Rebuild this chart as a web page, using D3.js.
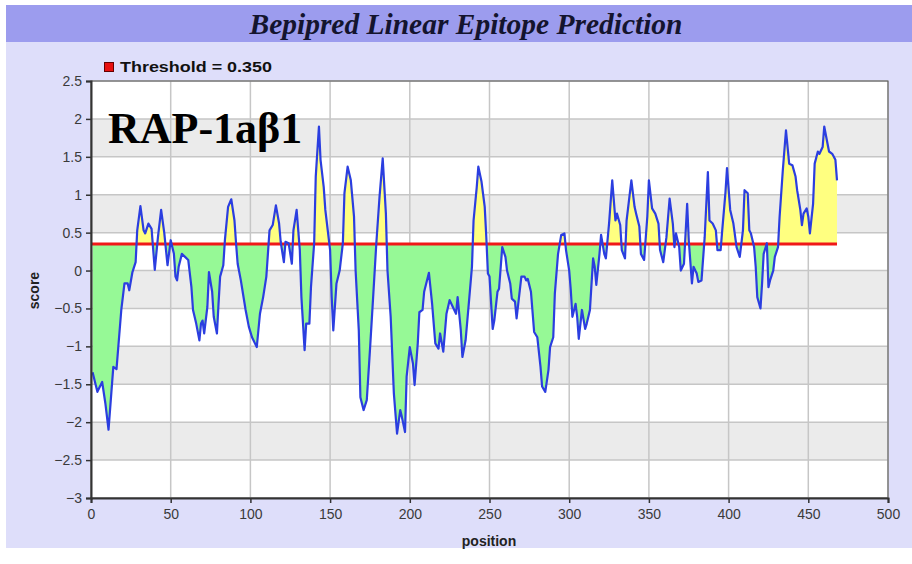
<!DOCTYPE html>
<html>
<head>
<meta charset="UTF-8">
<title>Bepipred Linear Epitope Prediction</title>
<script src="https://cdn.jsdelivr.net/npm/d3@7"></script>
<style>
    body { margin: 0; background: #fff; }
    svg { display: block; }
</style>
</head>
<body>
<svg id="chart" width="912" height="564"></svg>
<script>
    // values
    const positions = [1, 4, 7, 9, 11, 14, 16, 19, 21, 23, 24, 26, 28, 29, 31, 33, 34, 36, 38, 40,
        42, 44, 46, 48, 50, 52, 53, 54, 55, 57, 59, 61, 63, 64, 66, 68, 69, 70, 71, 73,
        74, 76, 77, 79, 80, 81, 83, 84, 86, 88, 90, 91, 92, 94, 95, 97, 99, 101, 104, 106,
        108, 110, 112, 114, 116, 118, 119, 121, 122, 124, 126, 127, 129, 131, 132, 134, 135, 137, 138, 140,
        141, 143, 144, 146, 147, 150, 151, 152, 154, 156, 158, 159, 161, 163, 165, 166, 168, 169, 171, 173,
        175, 177, 179, 181, 183, 185, 186, 188, 190, 192, 194, 195, 197, 198, 200, 202, 203, 205, 206, 208,
        209, 212, 214, 216, 218, 219, 221, 223, 225, 227, 229, 230, 232, 233, 235, 237, 239, 240, 242, 243,
        245, 247, 248, 249, 250, 252, 253, 255, 256, 258, 260, 261, 263, 264, 266, 267, 269, 270, 272, 273,
        274, 276, 278, 280, 282, 283, 285, 287, 288, 290, 291, 293, 295, 297, 298, 300, 301, 302, 304, 305,
        306, 308, 310, 311, 313, 315, 316, 317, 319, 320, 322, 323, 325, 327, 329, 330, 332, 333, 335, 336,
        339, 341, 342, 344, 345, 347, 349, 350, 352, 354, 356, 357, 359, 361, 363, 365, 366, 367, 369, 370,
        372, 374, 375, 377, 378, 380, 381, 383, 385, 387, 388, 390, 392, 393, 395, 396, 398, 399, 401, 402,
        403, 405, 407, 409, 410, 412, 413, 414, 416, 417, 418, 420, 421, 422, 424, 425, 426, 428, 429, 431,
        432, 434, 436, 438, 440, 442, 443, 445, 446, 447, 449, 450, 451, 453, 454, 456, 457, 459, 460, 462,
        463, 465, 467, 468];
    const scores = [-1.34, -1.60, -1.47, -1.75, -2.10, -1.27, -1.30, -0.52, -0.17, -0.17, -0.26, -0.02, 0.11, 0.53, 0.85, 0.53, 0.49, 0.62, 0.55, 0.01,
        0.44, 0.80, 0.49, 0.07, 0.40, 0.22, -0.08, -0.13, 0.05, 0.22, 0.18, 0.14, -0.22, -0.52, -0.70, -0.92, -0.70, -0.66, -0.83, -0.48,
        -0.02, -0.28, -0.61, -0.83, -0.44, -0.08, 0.07, 0.40, 0.84, 0.94, 0.66, 0.36, 0.09, -0.13, -0.26, -0.52, -0.74, -0.88, -1.01, -0.57,
        -0.35, -0.08, 0.53, 0.60, 0.86, 0.62, 0.38, 0.11, 0.38, 0.36, 0.09, 0.53, 0.80, 0.27, -0.35, -1.05, -0.70, -0.70, -0.22, 0.36,
        1.24, 1.90, 1.46, 1.10, 0.80, 0.27, -0.35, -0.79, -0.17, 0.00, 0.36, 1.02, 1.37, 1.19, 0.71, 0.00, -0.79, -1.67, -1.84, -1.71,
        -1.05, -0.35, 0.36, 0.97, 1.48, 0.75, 0.00, -0.61, -1.62, -2.15, -1.84, -1.93, -2.13, -1.40, -1.01, -1.23, -1.51, -0.96, -0.55, -0.52,
        -0.28, -0.03, -0.44, -0.96, -1.03, -0.83, -1.07, -0.57, -0.39, -0.48, -0.57, -0.35, -0.79, -1.14, -0.92, -0.44, 0.05, 0.66, 1.10, 1.37,
        1.17, 0.84, 0.44, -0.04, -0.08, -0.77, -0.66, -0.28, -0.24, 0.31, 0.18, 0.00, -0.17, -0.37, -0.41, -0.63, -0.26, -0.08, -0.08, -0.13,
        -0.11, -0.28, -0.81, -0.88, -1.27, -1.53, -1.60, -1.31, -1.01, -0.88, -0.30, 0.22, 0.47, 0.49, 0.27, 0.00, -0.26, -0.61, -0.44, -0.61,
        -0.90, -0.52, -0.77, -0.70, -0.52, 0.16, 0.05, -0.19, 0.22, 0.47, 0.22, 0.16, 0.62, 1.19, 0.66, 0.75, 0.60, 0.27, 0.16, 0.66,
        1.19, 0.84, 0.75, 0.58, 0.22, 0.14, 0.71, 1.19, 0.82, 0.75, 0.62, 0.27, 0.11, 0.44, 0.95, 0.62, 0.31, 0.49, 0.31, 0.00,
        0.09, 0.88, 0.40, -0.17, 0.05, -0.04, -0.15, -0.13, 0.44, 1.30, 0.66, 0.62, 0.53, 0.27, 0.27, 0.53, 1.02, 1.35, 0.80, 0.71,
        0.62, 0.31, 0.18, 0.53, 1.06, 1.02, 0.53, 0.49, 0.31, 0.05, -0.35, -0.50, -0.17, 0.22, 0.36, -0.22, -0.13, 0.00, 0.18, 0.31,
        0.71, 1.32, 1.85, 1.41, 1.39, 1.24, 1.06, 0.80, 0.60, 0.75, 0.82, 0.71, 0.49, 0.88, 1.41, 1.57, 1.54, 1.63, 1.90, 1.68,
        1.57, 1.54, 1.46, 1.19];
    const threshold = 0.35;
    const xTicks = [0, 50, 100, 150, 200, 250, 300, 350, 400, 450, 500];
    const yTicks = [-3, -2.5, -2, -1.5, -1, -0.5, 0, 0.5, 1, 1.5, 2, 2.5];

    const data = positions.map((p, i) => ({pos: p, score: scores[i]}));

    const svg = d3.select('#chart');
    const W = 912, H = 564;

    const x = d3.scaleLinear().domain([0, 500]).range([91, 888]);
    const y = d3.scaleLinear().domain([-3, 2.5]).range([498, 81]);

    // backgrounds
    svg.append('rect').attr('x', 6).attr('y', 5).attr('width', W - 6).attr('height', 543)
        .attr('fill', '#dedefa');
    svg.append('rect').attr('x', 6).attr('y', 5).attr('width', W - 6).attr('height', 37)
        .attr('fill', '#9c9cee');

    svg.append('text')
        .attr('x', 466).attr('y', 34)
        .attr('text-anchor', 'middle')
        .attr('font-family', '"Liberation Serif", "Times New Roman", serif')
        .attr('font-weight', 'bold').attr('font-style', 'italic')
        .attr('font-size', 29)
        .attr('textLength', 433).attr('lengthAdjust', 'spacingAndGlyphs')
        .attr('fill', '#14142e')
        .text('Bepipred Linear Epitope Prediction');

    // legend
    svg.append('rect').attr('x', 104.5).attr('y', 62.5).attr('width', 9).attr('height', 9)
        .attr('fill', '#e81010').attr('stroke', '#600').attr('stroke-width', 1);
    svg.append('text')
        .attr('x', 120).attr('y', 72)
        .attr('font-family', '"Liberation Sans", Arial, sans-serif')
        .attr('font-weight', 'bold').attr('font-size', 15)
        .attr('textLength', 152).attr('lengthAdjust', 'spacingAndGlyphs')
        .attr('fill', '#111')
        .text('Threshold  = 0.350');

    // plot area bands
    const plot = svg.append('g');
    plot.append('rect').attr('x', x(0)).attr('y', y(2.5))
        .attr('width', x(500) - x(0)).attr('height', y(-3) - y(2.5)).attr('fill', '#fff');
    const bands = d3.range(yTicks.length - 1).filter(i => (yTicks.length - 2 - i) % 2 === 1);
    plot.selectAll('rect.band').data(bands).enter().append('rect')
        .attr('class', 'band')
        .attr('x', x(0)).attr('width', x(500) - x(0))
        .attr('y', i => y(yTicks[i + 1])).attr('height', i => y(yTicks[i]) - y(yTicks[i + 1]))
        .attr('fill', '#ebebeb');

    // grid
    plot.selectAll('line.gy').data(yTicks).enter().append('line')
        .attr('x1', x(0)).attr('x2', x(500)).attr('y1', d => y(d)).attr('y2', d => y(d))
        .attr('stroke', '#c6c6c6').attr('stroke-width', 1.5);
    plot.selectAll('line.gx').data(xTicks).enter().append('line')
        .attr('y1', y(2.5)).attr('y2', y(-3)).attr('x1', d => x(d)).attr('x2', d => x(d))
        .attr('stroke', '#c6c6c6').attr('stroke-width', 1.5);

    // fills above / below threshold
    const defs = svg.append('defs');
    defs.append('clipPath').attr('id', 'above').append('rect')
        .attr('x', x(0)).attr('y', y(2.5)).attr('width', x(500) - x(0)).attr('height', y(threshold) - y(2.5));
    defs.append('clipPath').attr('id', 'below').append('rect')
        .attr('x', x(0)).attr('y', y(threshold)).attr('width', x(500) - x(0)).attr('height', y(-3) - y(threshold));

    const area = d3.area()
        .x(d => x(d.pos)).y0(y(threshold)).y1(d => y(d.score));
    plot.append('path').datum(data).attr('d', area)
        .attr('fill', '#ffff80').attr('clip-path', 'url(#above)');
    plot.append('path').datum(data).attr('d', area)
        .attr('fill', '#96f996').attr('clip-path', 'url(#below)');

    // threshold line
    plot.append('line')
        .attr('x1', x(0)).attr('x2', x(d3.max(positions)))
        .attr('y1', y(threshold)).attr('y2', y(threshold))
        .attr('stroke', '#f01818').attr('stroke-width', 3);

    // score line
    const line = d3.line().x(d => x(d.pos)).y(d => y(d.score));
    plot.append('path').datum(data).attr('d', line)
        .attr('fill', 'none').attr('stroke', '#2b3ee0').attr('stroke-width', 2.2)
        .attr('stroke-linejoin', 'round');

    // frame
    plot.append('rect').attr('x', x(0)).attr('y', y(2.5))
        .attr('width', x(500) - x(0)).attr('height', y(-3) - y(2.5))
        .attr('fill', 'none').attr('stroke', '#555').attr('stroke-width', 1);

    // axes
    const xAxis = svg.append('g').attr('transform', `translate(0,${y(-3)})`)
        .call(d3.axisBottom(x).tickValues(xTicks).tickSize(5).tickPadding(6));
    const yAxis = svg.append('g').attr('transform', `translate(${x(0)},0)`)
        .call(d3.axisLeft(y).tickValues(yTicks).tickSize(5).tickPadding(4).tickFormat(d3.format('')));
    [xAxis, yAxis].forEach(a => {
        a.select('.domain').attr('stroke', '#333').attr('stroke-width', 2);
        a.selectAll('.tick line').attr('stroke', '#333').attr('stroke-width', 1.5);
        a.selectAll('.tick text').attr('fill', '#3a3a3a')
            .attr('font-family', '"Liberation Sans", Arial, sans-serif').attr('font-size', 14);
    });

    svg.append('text')
        .attr('x', 489).attr('y', 546).attr('text-anchor', 'middle')
        .attr('font-family', '"Liberation Sans", Arial, sans-serif')
        .attr('font-weight', 'bold').attr('font-size', 14).attr('fill', '#222')
        .text('position');
    svg.append('text')
        .attr('transform', `translate(39,${y(0) + 20}) rotate(-90)`)
        .attr('text-anchor', 'middle')
        .attr('font-family', '"Liberation Sans", Arial, sans-serif')
        .attr('font-weight', 'bold').attr('font-size', 14).attr('fill', '#222')
        .text('score');

    // sample label
    svg.append('text')
        .attr('x', 108).attr('y', 143)
        .attr('font-family', '"Liberation Serif", "Times New Roman", serif')
        .attr('font-weight', 'bold').attr('font-size', 44).attr('fill', '#000')
        .text('RAP-1aβ1');
</script>
</body>
</html>
